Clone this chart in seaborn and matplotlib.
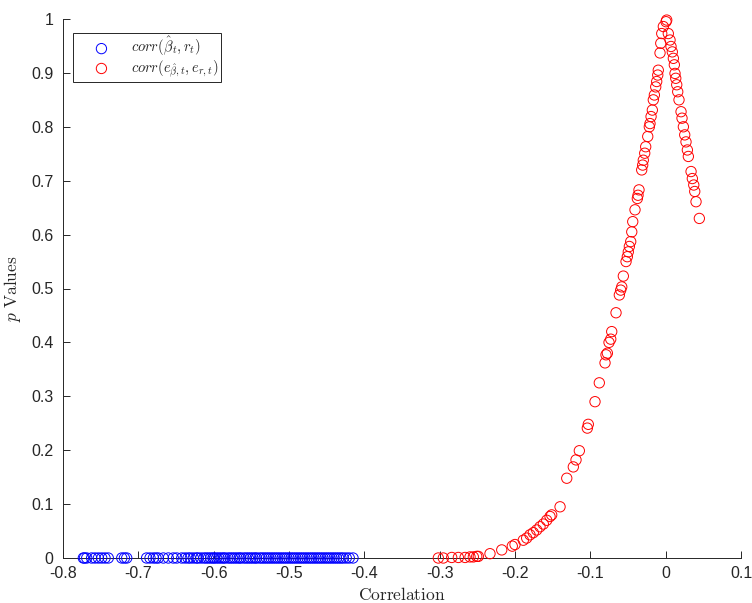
import matplotlib
matplotlib.use("Agg")
import matplotlib.pyplot as plt
import seaborn as sns
import pandas as pd

blue_corr = [-0.773, -0.7715, -0.7685, -0.762, -0.7575, -0.753, -0.7486, -0.7442, -0.7399,
             -0.722, -0.7185, -0.7154,
             -0.689, -0.6845, -0.680, -0.6765, -0.6735, -0.6668, -0.6602, -0.6536, -0.649,
             -0.6424, -0.638, -0.634, -0.631, -0.627, -0.623, -0.621, -0.617, -0.613, -0.610,
             -0.607, -0.604, -0.601, -0.599, -0.596, -0.593, -0.590, -0.587, -0.585, -0.581,
             -0.578, -0.575, -0.572, -0.569, -0.566, -0.564, -0.560, -0.557, -0.554, -0.551,
             -0.548, -0.545, -0.543, -0.539, -0.536, -0.533, -0.530, -0.527, -0.524, -0.521,
             -0.518, -0.515, -0.512, -0.509, -0.506, -0.503, -0.500, -0.497, -0.494, -0.491,
             -0.488, -0.485, -0.482, -0.479, -0.476, -0.473, -0.470, -0.467, -0.464, -0.461,
             -0.458, -0.455, -0.452, -0.449, -0.446, -0.443, -0.440, -0.437, -0.434, -0.431,
             -0.428, -0.424, -0.420, -0.415]
blue_p = [0.0] * len(blue_corr)

red_corr = [-0.3018, -0.2952, -0.2840, -0.2752, -0.2663, -0.2597, -0.2553, -0.2508, -0.2487,
            -0.2332, -0.2176, -0.2036, -0.2000, -0.1890, -0.1845, -0.1801, -0.1757, -0.1712,
            -0.1668, -0.1624, -0.1579, -0.1535, -0.1513, -0.1402, -0.1313, -0.1226, -0.1190,
            -0.1146, -0.1040, -0.1027, -0.0938, -0.0881, -0.0805, -0.0792, -0.0774, -0.0752,
            -0.0729, -0.0716, -0.0659, -0.0615, -0.0597, -0.0583, -0.0562, -0.0526, -0.0509,
            -0.0496, -0.0482, -0.0464, -0.0450, -0.0437, -0.0407, -0.0376, -0.0367, -0.0354,
            -0.0318, -0.0305, -0.0297, -0.0278, -0.0265, -0.0238, -0.0217, -0.0208, -0.0194,
            -0.0177, -0.0164, -0.0150, -0.0132, -0.0119, -0.0105, -0.0098, -0.0075, -0.0065,
            -0.0052, -0.0031, 0.0005, 0.0014,
            0.0035, 0.0058, 0.0071, 0.0088, 0.0102, 0.0115, 0.0124, 0.0134, 0.0147, 0.0160,
            0.0177, 0.0204, 0.0217, 0.0235, 0.0253, 0.0270, 0.0288, 0.0301, 0.0337, 0.0354,
            0.0373, 0.0386, 0.0403, 0.0447]
red_p = [0.000, 0.000, 0.001, 0.001, 0.001, 0.002, 0.002, 0.003, 0.003,
         0.008, 0.015, 0.022, 0.025, 0.033, 0.037, 0.043, 0.047, 0.052,
         0.058, 0.063, 0.070, 0.077, 0.080, 0.095, 0.148, 0.169, 0.182,
         0.199, 0.241, 0.248, 0.290, 0.325, 0.362, 0.377, 0.380, 0.400,
         0.406, 0.420, 0.455, 0.488, 0.497, 0.503, 0.523, 0.550, 0.559,
         0.568, 0.578, 0.587, 0.605, 0.624, 0.646, 0.667, 0.673, 0.683,
         0.720, 0.729, 0.738, 0.751, 0.763, 0.782, 0.800, 0.806, 0.819,
         0.831, 0.850, 0.859, 0.874, 0.884, 0.896, 0.905, 0.937, 0.955,
         0.973, 0.986, 0.995, 0.998,
         0.973, 0.961, 0.949, 0.939, 0.927, 0.915, 0.899, 0.890, 0.878, 0.865,
         0.850, 0.828, 0.816, 0.800, 0.785, 0.772, 0.757, 0.745, 0.717, 0.704,
         0.692, 0.680, 0.661, 0.630]

x_ticks = [-0.8, -0.7, -0.6, -0.5, -0.4, -0.3, -0.2, -0.1, 0.0, 0.1]
x_tick_labels = ["-0.8", "-0.7", "-0.6", "-0.5", "-0.4", "-0.3", "-0.2", "-0.1", "0", "0.1"]
y_ticks = [0, 0.1, 0.2, 0.3, 0.4, 0.5, 0.6, 0.7, 0.8, 0.9, 1.0]
y_tick_labels = ["0", "0.1", "0.2", "0.3", "0.4", "0.5", "0.6", "0.7", "0.8", "0.9", "1"]

label_blue = r"$corr(\hat{\beta}_t, r_t)$"
label_red = r"$corr(e_{\hat{\beta},t}, e_{r,t})$"
x_label = r"$\mathrm{Correlation}$"
y_label = r"$p\ \mathrm{Values}$"

sns.set_theme(style="ticks")
plt.rcParams["font.family"] = ["Liberation Sans", "DejaVu Sans"]
plt.rcParams["mathtext.fontset"] = "cm"

axis_color = "#262626"

fig = plt.figure(figsize=(7.52, 6.03), dpi=100)
ax = fig.add_axes([63 / 752, 45 / 603, 678 / 752, 539 / 603])

blue_df = pd.DataFrame({"corr": blue_corr, "p": blue_p})
red_df = pd.DataFrame({"corr": red_corr, "p": red_p})

sns.scatterplot(data=blue_df, x="corr", y="p", ax=ax, marker="o", s=55,
                facecolor="none", edgecolor="#0000ff", linewidth=0.7,
                label=label_blue, clip_on=False, zorder=3)
sns.scatterplot(data=red_df, x="corr", y="p", ax=ax, marker="o", s=55,
                facecolor="none", edgecolor="#ff0000", linewidth=0.7,
                label=label_red, clip_on=False, zorder=3)

ax.set_xlim(-0.8, 0.1)
ax.set_ylim(0, 1)
ax.set_xticks(x_ticks)
ax.set_xticklabels(x_tick_labels)
ax.set_yticks(y_ticks)
ax.set_yticklabels(y_tick_labels)
ax.tick_params(direction="in", length=5, width=0.7, colors=axis_color,
               labelsize=11.5, labelcolor=axis_color)
ax.tick_params(axis="y", pad=7)
ax.tick_params(axis="x", pad=6)
for side in ["top", "right"]:
    ax.spines[side].set_visible(False)
for side in ["left", "bottom"]:
    ax.spines[side].set_color(axis_color)
    ax.spines[side].set_linewidth(0.7)

ax.set_xlabel(x_label, fontsize=12.5, color=axis_color, labelpad=3)
ax.set_ylabel(y_label, fontsize=12.5, color=axis_color, labelpad=6)

leg = ax.legend(loc="upper left", bbox_to_anchor=(10 / 678, (558 - 33) / 539),
                borderaxespad=0, frameon=True, fancybox=False, fontsize=10.5,
                handletextpad=0.25, borderpad=0.15, labelspacing=0.0,
                handlelength=3.6)
leg.get_frame().set_edgecolor(axis_color)
leg.get_frame().set_linewidth(0.7)
leg.get_frame().set_alpha(1)

fig.savefig("out.png", dpi=100)
